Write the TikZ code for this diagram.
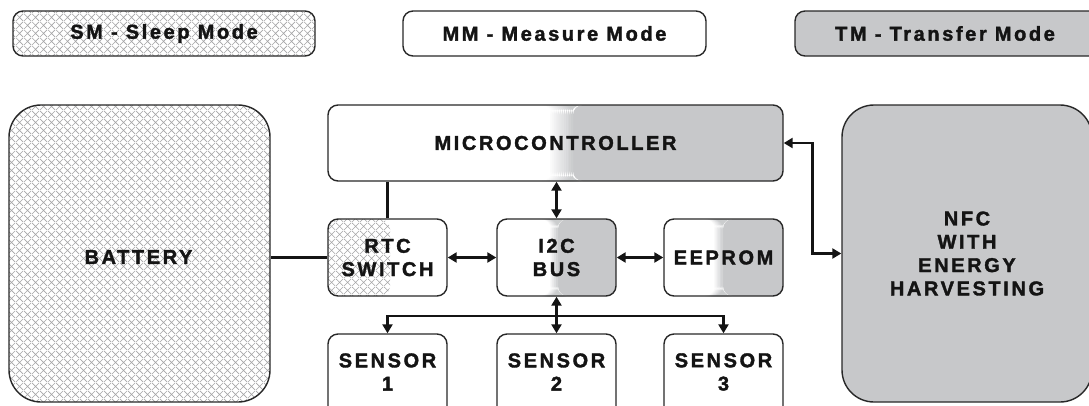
\documentclass[tikz,border=0pt]{standalone}
\usepackage{fontspec}
\setmainfont{Liberation Sans}[BoldFont={* Bold},BoldFeatures={LetterSpace=13,FakeBold=1.8}]
\usetikzlibrary{arrows.meta,patterns.meta}

\definecolor{tmgray}{RGB}{199,200,202}
\definecolor{edge}{RGB}{40,40,40}
\definecolor{hatchgray}{RGB}{165,165,167}

% diamond cross-hatching used for the sleep-mode parts
\tikzdeclarepattern{
  name=diamondhatch,
  type=uncolored,
  bounding box={(0pt,0pt) and (8pt,8pt)},
  tile size={(8pt,8pt)},
  code={
    \pgfsetlinewidth{0.7pt}
    \pgfpathmoveto{\pgfpoint{0pt}{0pt}}\pgfpathlineto{\pgfpoint{8pt}{8pt}}
    \pgfpathmoveto{\pgfpoint{0pt}{8pt}}\pgfpathlineto{\pgfpoint{8pt}{0pt}}
    \pgfusepath{stroke}
  }
}

\tikzset{
  lbl/.style={font=\bfseries\fontsize{20}{23.3}\selectfont, align=center, text=black!92},
  box/.style={lbl, draw=edge, line width=1.4pt, rounded corners=10pt,
    minimum width=#1, inner sep=0pt},
  big/.style={lbl, draw=edge, line width=1.4pt, rounded corners=32pt,
    minimum width=#1, minimum height=297pt, inner sep=0pt},
  hatched/.style={pattern={diamondhatch}, pattern color=hatchgray},
  % white on the left, grey on the right, blended in steps between #1 and #2
  halfgray/.style 2 args={path picture={
    \fill[white] (path picture bounding box.north west)
      rectangle (path picture bounding box.south east);
    \fill[tmgray] ([xshift=#2]path picture bounding box.north west)
      rectangle (path picture bounding box.south east);
    \foreach \k in {1,...,12}{
      \pgfmathtruncatemacro{\pct}{100*\k/13}
      \fill[tmgray!\pct!white]
        ([xshift={#1+(\k-1)*(#2-#1)/12}]path picture bounding box.north west)
        rectangle ([xshift={#1+\k*(#2-#1)/12+0.3pt}]path picture bounding box.south west);
    }}},
  halfhatch/.style={path picture={
    \fill[pattern={diamondhatch}, pattern color=hatchgray]
      (path picture bounding box.north west)
      rectangle ([xshift=#1]path picture bounding box.south west);}},
  link/.style={line width=2.6pt, draw=black!92},
  tip/.tip={Triangle[length=9pt,width=10pt]},
  both/.style={link, tip-tip},
}

\begin{document}
\begin{tikzpicture}[x=1pt,y=-1pt]
\useasboundingbox (0,0) rectangle (1089,405);
\fill[white] (0,0) rectangle (1089,405);

% legend
\node[box=302pt, minimum height=45pt, hatched] (sm) at (164,33.5) {SM - Sleep Mode};
\node[box=303pt, minimum height=45pt, fill=white] (mm) at (554.5,33.5) {MM - Measure Mode};
\node[box=310pt, minimum height=45pt, fill=tmgray] (tm) at (950,33.5) {};
\node[lbl] (tmtext) at (945,33.5) {TM - Transfer Mode};

% large blocks
\node[big=261pt, hatched] (battery) at (139.5,253.5) {};
\node[lbl] (battext) at (138.5,257) {BATTERY};
\node[big=250pt, fill=tmgray] (nfc) at (967,253.5) {NFC\\WITH\\ENERGY\\HARVESTING};

% middle blocks
\node[box=455pt, minimum height=76pt, halfgray={222pt}{245pt}] (micro) at (555.5,143) {MICROCONTROLLER};
\node[box=119pt, minimum height=77pt, fill=white, halfhatch=62pt] (rtc) at (387.5,257.5) {RTC\\SWITCH};
\node[box=119pt, minimum height=77pt, halfgray={53pt}{61pt}] (i2c) at (556.5,257.5) {I2C\\BUS};
\node[box=119pt, minimum height=77pt, halfgray={50pt}{59pt}] (eeprom) at (723.5,257.5) {EEPROM};

% sensors, cut off at the lower edge
\node[box=119pt, minimum height=90pt, fill=white] (s1) at (387.5,379) {};
\node[box=119pt, minimum height=90pt, fill=white] (s2) at (556.5,379) {};
\node[box=119pt, minimum height=90pt, fill=white] (s3) at (723.5,379) {};
\node[lbl] (s1t) at (387.5,372) {SENSOR\\1};
\node[lbl] (s2t) at (556.5,372) {SENSOR\\2};
\node[lbl] (s3t) at (723.5,372) {SENSOR\\3};

\coordinate (bus) at (556.5,316);

% connectors
\draw[link] (rtc.west) -- (rtc.west -| battery.east);
\draw[link] (rtc.north) -- (rtc.north |- micro.south);
\draw[both] (i2c.north) -- (i2c.north |- micro.south);
\draw[both] (rtc.east) -- (i2c.west);
\draw[both] (i2c.east) -- (eeprom.west);
\draw[both] (micro.east) -- ++(29,0) |- (nfc.west);
\draw[both] (s1.north) -- (s1.north |- bus) -- (s3.north |- bus) -- (s3.north);
\draw[both] (i2c.south) -- (s2.north);
\end{tikzpicture}
\end{document}
